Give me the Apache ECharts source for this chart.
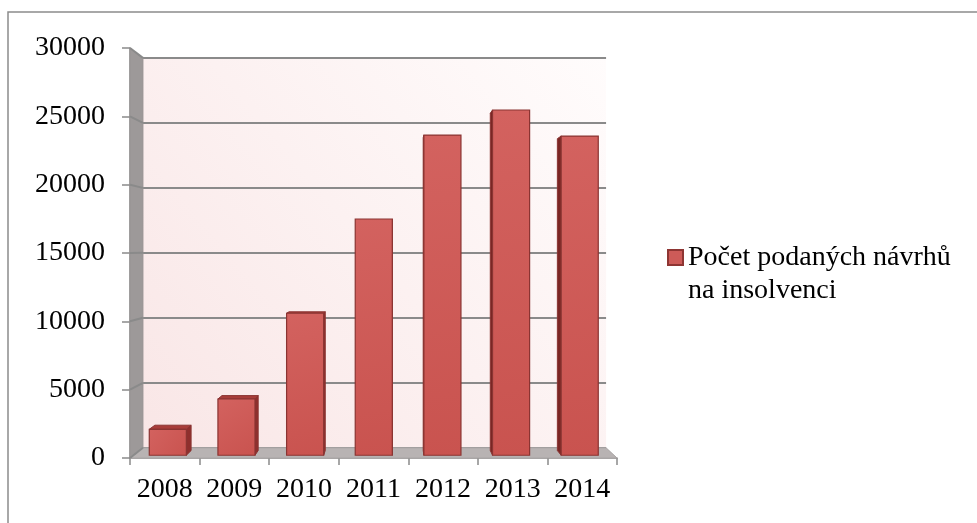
<!DOCTYPE html>
<html>
<head>
<meta charset="utf-8">
<script src="https://cdn.jsdelivr.net/npm/echarts@6/dist/echarts.min.js"></script>
<style>
html,body{margin:0;padding:0;background:#fff;}
#c{width:977px;height:523px;}
</style>
</head>
<body>
<div id="c"></div>
<script>
// ---- data ----
const years = ['2008','2009','2010','2011','2012','2013','2014'];
const proposals = [1925, 4170, 10530, 17520, 23740, 25600, 23670];
const seriesName = 'Počet podaných návrhů na insolvenci';
const legendLines = ['Počet podaných návrhů', 'na insolvenci'];
const yMin = 0, yMax = 30000, yStep = 5000;

// ---- layout (pixels) ----
const W = 977, H = 523;
const FRONT = {left: 130, top: 48, right: 617, bottom: 458};
const VP = [394, 250];          // perspective vanishing point
const BACK_SCALE = 0.951;       // back wall scale relative to front plane
const BAR_D0 = 0.27, BAR_D1 = 0.73, BAR_FRAC = 0.54;
function proj(p, d) {
  const s = 1 - d * (1 - BACK_SCALE);
  return [VP[0] + (p[0] - VP[0]) * s, VP[1] + (p[1] - VP[1]) * s];
}
const bTL = proj([FRONT.left, FRONT.top], 1);
const bBR = proj([FRONT.right, FRONT.bottom], 1);
const BACK = {left: bTL[0], top: bTL[1], right: bBR[0], bottom: bBR[1]};

const FONT = '"Liberation Serif", "Times New Roman", serif';
const AXIS_GRAY = '#8a8a8a';

const chart = echarts.init(document.getElementById('c'), null, {renderer: 'canvas'});

const option = {
  backgroundColor: '#ffffff',
  animation: false,
  grid: [
    {left: FRONT.left, top: FRONT.top, width: FRONT.right - FRONT.left, height: FRONT.bottom - FRONT.top,
     show: false},
    {left: BACK.left, top: BACK.top, width: BACK.right - BACK.left, height: BACK.bottom - BACK.top,
     show: true, borderWidth: 0,
     backgroundColor: new echarts.graphic.LinearGradient(0, 1, 1, 0, [
       {offset: 0, color: '#f9e6e6'}, {offset: 1, color: '#fffcfc'}])}
  ],
  xAxis: [
    {type: 'category', gridIndex: 0, data: years,
     axisLine: {show: true, lineStyle: {color: AXIS_GRAY, width: 1.5}},
     axisTick: {show: true, length: 7, lineStyle: {color: AXIS_GRAY, width: 1.5}},
     axisLabel: {color: '#000', fontFamily: FONT, fontSize: 28, margin: 18, interval: 0}},
    {type: 'category', gridIndex: 1, data: years, show: false}
  ],
  yAxis: [
    {type: 'value', gridIndex: 0, min: yMin, max: yMax, interval: yStep,
     axisLine: {show: true, lineStyle: {color: AXIS_GRAY, width: 1.5}},
     axisTick: {show: true, length: 8, lineStyle: {color: AXIS_GRAY, width: 1.5}},
     splitLine: {show: false},
     axisLabel: {color: '#000', fontFamily: FONT, fontSize: 28, margin: 25,
       formatter: function (v) { return String(v); }}},
    {type: 'value', gridIndex: 1, min: yMin, max: yMax, interval: yStep,
     axisLine: {show: false}, axisTick: {show: false}, axisLabel: {show: false},
     splitLine: {show: true, lineStyle: {color: AXIS_GRAY, width: 2}}}
  ],
  legend: {
    left: 667, top: 208, padding: 0,
    orient: 'vertical',
    icon: 'rect', itemWidth: 15, itemHeight: 15, itemGap: 0,
    formatter: function () { return '{t|}\n{t|' + legendLines[0] + '}\n{t|' + legendLines[1] + '}'; },
    textStyle: {fontFamily: FONT, fontSize: 28, color: '#000', lineHeight: 33,
      rich: {t: {fontFamily: FONT, fontSize: 28, color: '#000', lineHeight: 33}}},
    data: [seriesName]
  },
  graphic: [
    {type: 'polyline', shape: {points: [[8, H], [8, 12], [W, 12]]},
     style: {stroke: '#8c8c8c', lineWidth: 1.5, fill: null}, z: 100}
  ],
  series: [
    {
      // side wall + floor (3D frame)
      type: 'custom', name: 'frame', xAxisIndex: 0, yAxisIndex: 0, z: 1,
      silent: true, clip: false,
      data: [[0, 0]],
      renderItem: function (params, api) {
        const ticks = [];
        for (let v = yMin; v <= yMax; v += yStep) ticks.push(v);
        const fTop = api.coord([0, yMax]);
        const fBot = api.coord([0, yMin]);
        const band = api.size([1, 0])[0];
        const xl = fTop[0] - band / 2;
        const xr = xl + band * years.length;
        const yT = fTop[1], yB = fBot[1];
        const children = [];
        children.push({type: 'polygon', shape: {points: [
          proj([xl, yB], 1), proj([xr, yB], 1), [xr, yB], [xl, yB]]},
          style: {fill: '#b8b3b3', stroke: '#a9a4a4', lineWidth: 1}});
        children.push({type: 'polygon', shape: {points: [
          [xl, yT], proj([xl, yT], 1), proj([xl, yB], 1), [xl, yB]]},
          style: {fill: '#9d9999', stroke: '#979393', lineWidth: 1}});
        ticks.forEach(function (v) {
          const p = api.coord([0, v]);
          const q = proj([xl, p[1]], 1);
          children.push({type: 'line', shape: {x1: xl, y1: p[1], x2: q[0], y2: q[1]},
            style: {stroke: AXIS_GRAY, lineWidth: 2}});
        });
        return {type: 'group', children: children};
      },
      legendHoverLink: false
    },
    {
      type: 'custom', name: seriesName, xAxisIndex: 0, yAxisIndex: 0, z: 3, clip: false,
      itemStyle: {color: '#cd5b58', borderColor: '#8e3533', borderWidth: 1},
      data: years.map(function (y, i) { return [i, proposals[i]]; }),
      renderItem: function (params, api) {
        const top = api.coord([api.value(0), api.value(1)]);
        const base = api.coord([api.value(0), 0]);
        const bw = api.size([1, 0])[0] * BAR_FRAC;
        const x0 = top[0] - bw / 2, x1 = top[0] + bw / 2;
        const yT = top[1], yB = base[1];
        const F = [proj([x0, yT], BAR_D0), proj([x1, yT], BAR_D0), proj([x1, yB], BAR_D0), proj([x0, yB], BAR_D0)];
        const B = [proj([x0, yT], BAR_D1), proj([x1, yT], BAR_D1), proj([x1, yB], BAR_D1), proj([x0, yB], BAR_D1)];
        const stroke = '#8a3432';
        const children = [];
        if (x1 < VP[0]) {
          children.push({type: 'polygon', shape: {points: [F[1], B[1], B[2], F[2]]},
            style: {fill: '#8f2f2d', stroke: stroke, lineWidth: 1}});
        } else if (x0 > VP[0]) {
          children.push({type: 'polygon', shape: {points: [F[0], B[0], B[3], F[3]]},
            style: {fill: '#7a2624', stroke: stroke, lineWidth: 1}});
        }
        if (yT > VP[1]) {
          children.push({type: 'polygon', shape: {points: [F[0], F[1], B[1], B[0]]},
            style: {fill: '#a83d3a', stroke: stroke, lineWidth: 1}});
        }
        children.push({type: 'polygon', shape: {points: F},
          style: {fill: new echarts.graphic.LinearGradient(0, 0, 1, 1, [
            {offset: 0, color: '#d3625f'}, {offset: 1, color: '#c9534f'}]),
            stroke: stroke, lineWidth: 1.2}});
        return {type: 'group', children: children};
      }
    }
  ]
};
chart.setOption(option);
</script>
</body>
</html>
